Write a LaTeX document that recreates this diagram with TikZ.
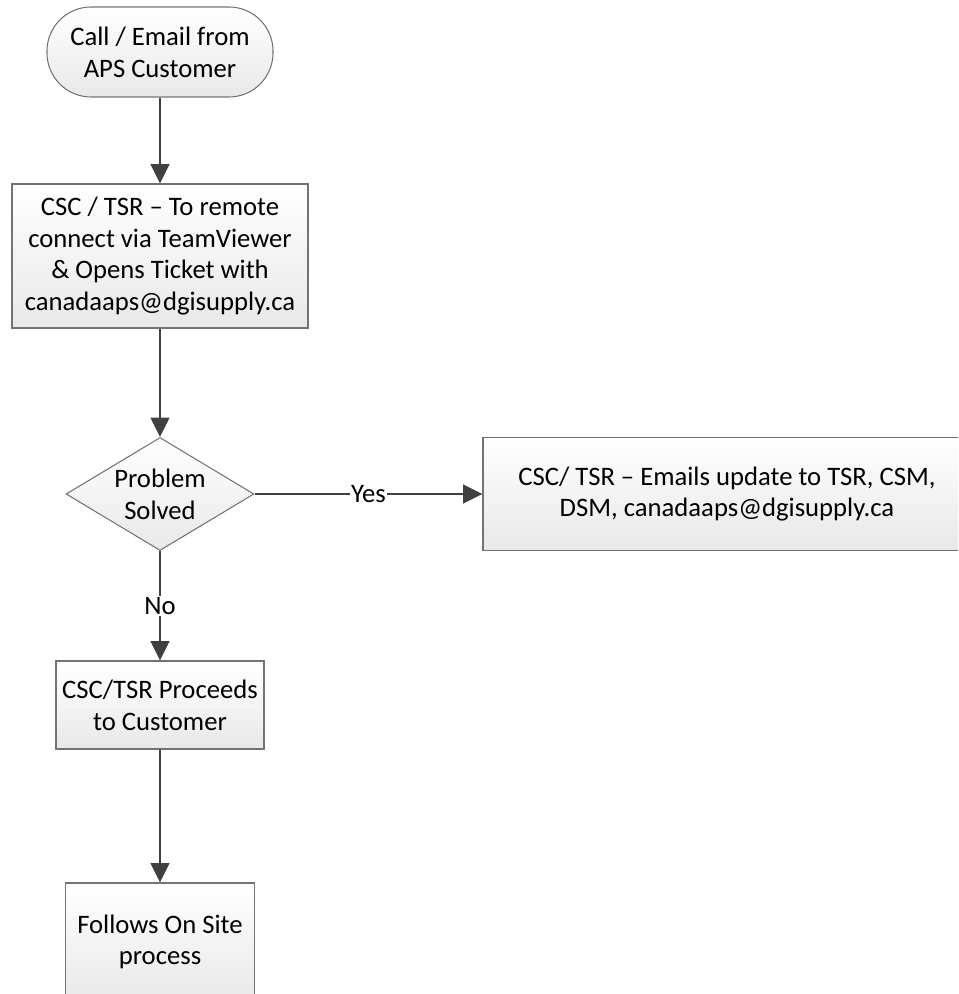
\documentclass[tikz,border=0pt]{standalone}
\usepackage{fontspec}
\setmainfont{Carlito}
\usetikzlibrary{arrows.meta,shapes.geometric}

\tikzset{
    boxfill/.style={draw=black!55, line width=0.8pt, top color=white, bottom color=black!9},
    termbox/.style={boxfill, rectangle, rounded corners=33pt, minimum width=169.5pt, minimum height=67.5pt, align=center},
    procbox/.style={boxfill, rectangle, align=center},
    decbox/.style={boxfill, diamond, aspect=1.66, inner sep=0pt, minimum width=141pt, minimum height=84.75pt, align=center},
    flow/.style={draw=black!75, line width=1.6pt, -{Triangle[length=14.5pt,width=14pt]}},
    lbl/.style={fill=white, inner sep=1pt}
}

\begin{document}
\begin{tikzpicture}[x=0.75pt, y=-0.75pt, font=\fontsize{20}{23.8}\selectfont]
    \useasboundingbox (0,0) rectangle (958,994);
    \clip (0,0) rectangle (958,994);

    \node[termbox] (call) at (160, 52) {Call / Email from\\APS Customer};

    \node[procbox, minimum width=222pt, minimum height=108pt] (remote) at (160, 256) {CSC / TSR – To remote\\connect via TeamViewer\\\& Opens Ticket with\\canadaaps@dgisupply.ca};

    \node[decbox] (solved) at (160, 494) {Problem\\Solved};

    \node[procbox, minimum width=366pt, minimum height=84.75pt] (update) at (727, 494) {CSC/ TSR – Emails update to TSR, CSM,\\DSM, canadaaps@dgisupply.ca};

    \node[procbox, minimum width=156pt, minimum height=66pt] (proceeds) at (160, 705) {CSC/TSR Proceeds\\to Customer};

    \node[procbox, minimum width=141.75pt, minimum height=88.5pt] (onsite) at (160, 942) {Follows On Site\\process};

    \draw[flow] (call) to (remote);

    \draw[flow] (remote) to (solved);

    \draw[flow] (solved) to node[lbl] (yes) {Yes} (update);

    \draw[flow] (solved) to node[lbl] (no) {No} (proceeds);

    \draw[flow] (proceeds) to (onsite);
\end{tikzpicture}
\end{document}
